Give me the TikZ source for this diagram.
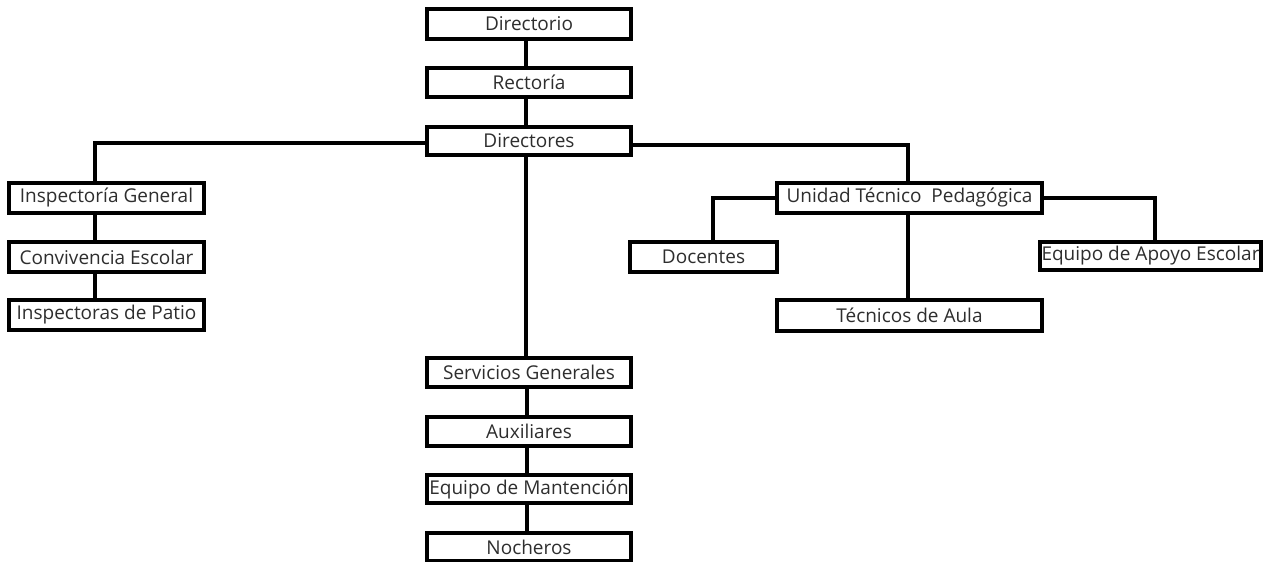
\documentclass[tikz,border=0pt]{standalone}
\usepackage{fontspec}
\setmainfont{Open Sans}
\begin{document}
\begin{tikzpicture}[x=1pt,y=-1pt,
  box/.style={draw=black,line width=3.2pt,fill=white,inner sep=0pt,minimum height=#1,
    font=\fontsize{19}{21}\selectfont,text=black!82},
  box/.default=29pt,
  link/.style={draw=black,line width=3.1pt}]
\useasboundingbox (0,0) rectangle (1269,562);
% nodes
\node[box=30pt,minimum width=204pt] (dir) at (529,24) {Directorio};
\node[box=29pt,minimum width=204pt] (rec) at (529,82.5) {Rectoría};
\node[box=28pt,minimum width=204pt] (dires) at (529,141) {Directores};
\node[box=30pt,minimum width=195pt] (insp) at (106.5,198) {Inspectoría General};
\node[box=30pt,minimum width=195pt] (conv) at (106.5,257) {Convivencia Escolar};
\node[box=30pt,minimum width=195pt] (patio) at (106.5,315) {Inspectoras de Patio};
\node[box=30pt,minimum width=265pt] (utp) at (909.5,198) {Unidad Técnico\ \ Pedagógica};
\node[box=30pt,minimum width=147pt] (doc) at (703.5,257) {Docentes};
\node[box=28pt,minimum width=221pt] (apoyo) at (1150.5,256) {Equipo de Apoyo Escolar};
\node[box=31pt,minimum width=265pt] (tec) at (909.5,315.5) {Técnicos de Aula};
\node[box=29pt,minimum width=204pt] (serv) at (529,372.5) {Servicios Generales};
\node[box=29pt,minimum width=204pt] (aux) at (529,431.5) {Auxiliares};
\node[box=28pt,minimum width=204pt] (mant) at (529,489) {Equipo de Mantención};
\node[box=28pt,minimum width=204pt] (noch) at (529,547) {Nocheros};
% connectors
\draw[link] ([xshift=-3pt]dir.south) -- ([xshift=-3pt]rec.north);
\draw[link] ([xshift=-3pt]rec.south) -- ([xshift=-3pt]dires.north);
\draw[link] ([yshift=-2pt]dires.west) -| ([xshift=-11.5pt]insp.north);
\draw[link] ([xshift=-11.5pt]insp.south) -- ([xshift=-11.5pt]conv.north);
\draw[link] ([xshift=-11.5pt]conv.south) -- ([xshift=-11.5pt]patio.north);
\draw[link] ([yshift=-4pt]dires.east) -| ([xshift=-1.5pt]utp.north);
\draw[link] (utp.west) -| ([xshift=9.5pt]doc.north);
\draw[link] (utp.east) -| ([xshift=4.5pt]apoyo.north);
\draw[link] ([xshift=-1.5pt]utp.south) -- ([xshift=-1.5pt]tec.north);
\draw[link] ([xshift=-3pt]dires.south) -- ([xshift=-3pt]serv.north);
\draw[link] ([xshift=-2pt]serv.south) -- ([xshift=-2pt]aux.north);
\draw[link] ([xshift=-2pt]aux.south) -- ([xshift=-2pt]mant.north);
\draw[link] ([xshift=-2pt]mant.south) -- ([xshift=-2pt]noch.north);
\end{tikzpicture}
\end{document}
